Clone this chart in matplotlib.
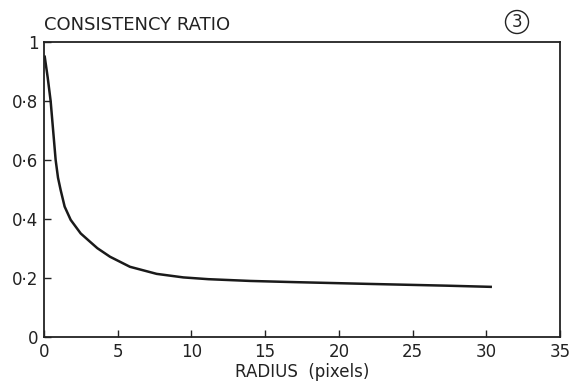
import matplotlib
matplotlib.use("Agg")
import matplotlib.pyplot as plt

# Values
radius = [0.05, 0.25, 0.45, 0.62, 0.79, 0.95, 1.13, 1.40, 1.81, 2.49, 3.12, 3.62, 4.48,
          5.83, 7.64, 9.45, 11.15, 14.0, 17.0, 22.0, 27.3, 30.3]
ratio = [0.95, 0.88, 0.80, 0.70, 0.60, 0.54, 0.498, 0.442, 0.397, 0.351, 0.323, 0.301, 0.272,
         0.238, 0.214, 0.202, 0.196, 0.19, 0.186, 0.18, 0.174, 0.17]

x_ticks = [0, 5, 10, 15, 20, 25, 30, 35]
y_ticks = [0, 0.2, 0.4, 0.6, 0.8, 1.0]
y_labels = ["0", "0·2", "0·4", "0·6", "0·8", "1"]

plt.rcParams["font.family"] = ["DejaVu Sans"]

fig = plt.figure(figsize=(5.81, 3.91), dpi=100)
ax = fig.add_axes([44 / 581, 1 - 337 / 391, (560 - 44) / 581, (337 - 42) / 391])

ax.plot(radius, ratio, color="#1a1a1a", linewidth=1.8, solid_joinstyle="round")

ax.set_xlim(0, 35)
ax.set_ylim(0, 1)
ax.set_xticks(x_ticks)
ax.set_xticklabels([str(t) for t in x_ticks])
ax.set_yticks(y_ticks)
ax.set_yticklabels(y_labels)
ax.tick_params(direction="in", length=5, width=1.0, labelsize=12, colors="#222222", pad=4)
for s in ax.spines.values():
    s.set_linewidth(1.3)
    s.set_color("#222222")

ax.set_xlabel("RADIUS  (pixels)", fontsize=12, color="#222222", labelpad=2)
fig.text(44 / 581, 1 - 30 / 391, "CONSISTENCY RATIO", fontsize=13, color="#222222",
         ha="left", va="baseline")
fig.text(517 / 581, 1 - 22 / 391, "3", fontsize=12, color="#222222", ha="center", va="center",
         bbox=dict(boxstyle="circle,pad=0.15", fc="white", ec="#222222", lw=1.0))

fig.savefig("out.png", dpi=100)
